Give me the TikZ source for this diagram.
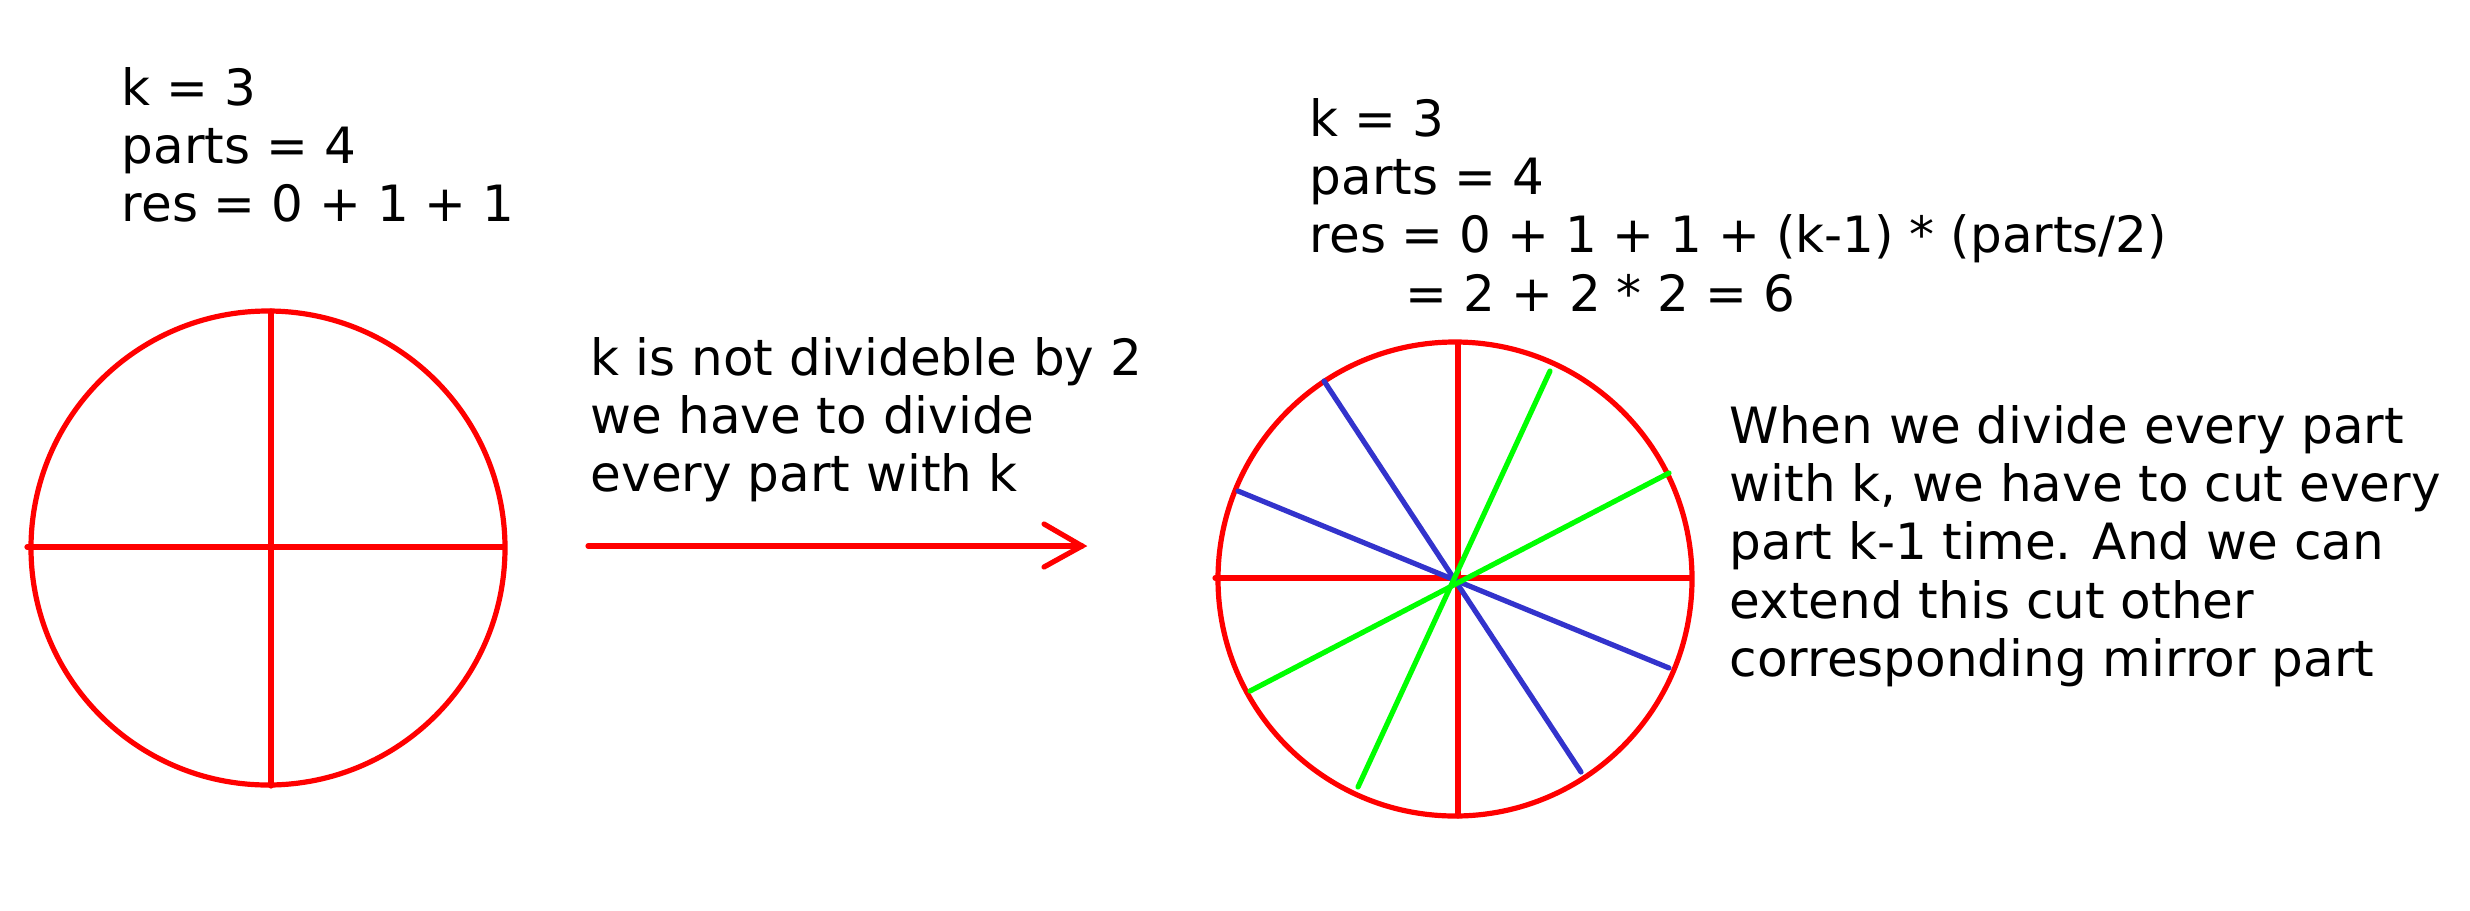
\documentclass[tikz,border=0pt]{standalone}
\usepackage{fontspec}
\setmainfont{DejaVu Sans}
\definecolor{cutred}{RGB}{255,0,0}
\definecolor{cutblue}{RGB}{51,51,204}
\definecolor{cutgreen}{RGB}{0,255,0}
\begin{document}
\begin{tikzpicture}[x=0.25pt,y=-0.25pt,
  txt/.style={anchor=base west, inner sep=0pt, font=\fontsize{12.5pt}{14.6pt}\selectfont},
  redline/.style={draw=cutred, line width=1.3pt, line cap=round},
  blueline/.style={draw=cutblue, line width=1.3pt, line cap=round},
  greenline/.style={draw=cutgreen, line width=1.3pt, line cap=round}]
\useasboundingbox (0,0) rectangle (2470,910);

% texts
\node[txt] (lefttxt) at (121,105) {\begin{tabular}[t]{@{}l@{}}k = 3\\parts = 4\\res = 0 + 1 + 1\end{tabular}};
\node[txt] (arrowtxt) at (590,375) {\begin{tabular}[t]{@{}l@{}}k is not divideble by 2\\we have to divide\\every part with k\end{tabular}};
\node[txt] (righttop) at (1309,136) {\begin{tabular}[t]{@{}l@{}}k = 3\\parts = 4\\res = 0 + 1 + 1 + (k-1) * (parts/2)\\\hspace*{24pt}= 2 + 2 * 2 = 6\end{tabular}};
\node[txt] (rightexp) at (1729,443) {\begin{tabular}[t]{@{}l@{}}When we divide every part\\with k, we have to cut every\\part k-1 time. And we can\\extend this cut other\\corresponding mirror part\end{tabular}};

% left circle
\coordinate (lc) at (268,548);
\draw[redline] (lc) circle[radius=237];
\coordinate (lt) at (271,311);
\coordinate (lb) at (271,786);
\coordinate (ll) at (27,547);
\coordinate (lr) at (503,547);
\draw[redline] (lt) -- (lb);
\draw[redline] (ll) -- (lr);

% arrow
\coordinate (as) at (588,546);
\coordinate (ae) at (1082,546);
\coordinate (au) at (1044,524);
\coordinate (ad) at (1044,567);
\draw[redline] (as) -- (ae);
\draw[redline] (au) -- (ae) -- (ad);

% right circle
\coordinate (rc) at (1455,579);
\draw[redline] (rc) circle[radius=237];
\coordinate (rt) at (1458,343);
\coordinate (rb) at (1458,816);
\coordinate (rl) at (1215,578);
\coordinate (rr) at (1690,578);
\draw[redline] (rt) -- (rb);
\draw[redline] (rl) -- (rr);
\coordinate (b1a) at (1324,381);
\coordinate (b1b) at (1581,772);
\coordinate (b2a) at (1238,491);
\coordinate (b2b) at (1669,668);
\draw[blueline] (b1a) -- (b1b);
\draw[blueline] (b2a) -- (b2b);
\coordinate (g1a) at (1550,371);
\coordinate (g1b) at (1358,787);
\coordinate (g2a) at (1669,473);
\coordinate (g2b) at (1250,691);
\draw[greenline] (g1a) -- (g1b);
\draw[greenline] (g2a) -- (g2b);
\end{tikzpicture}
\end{document}
